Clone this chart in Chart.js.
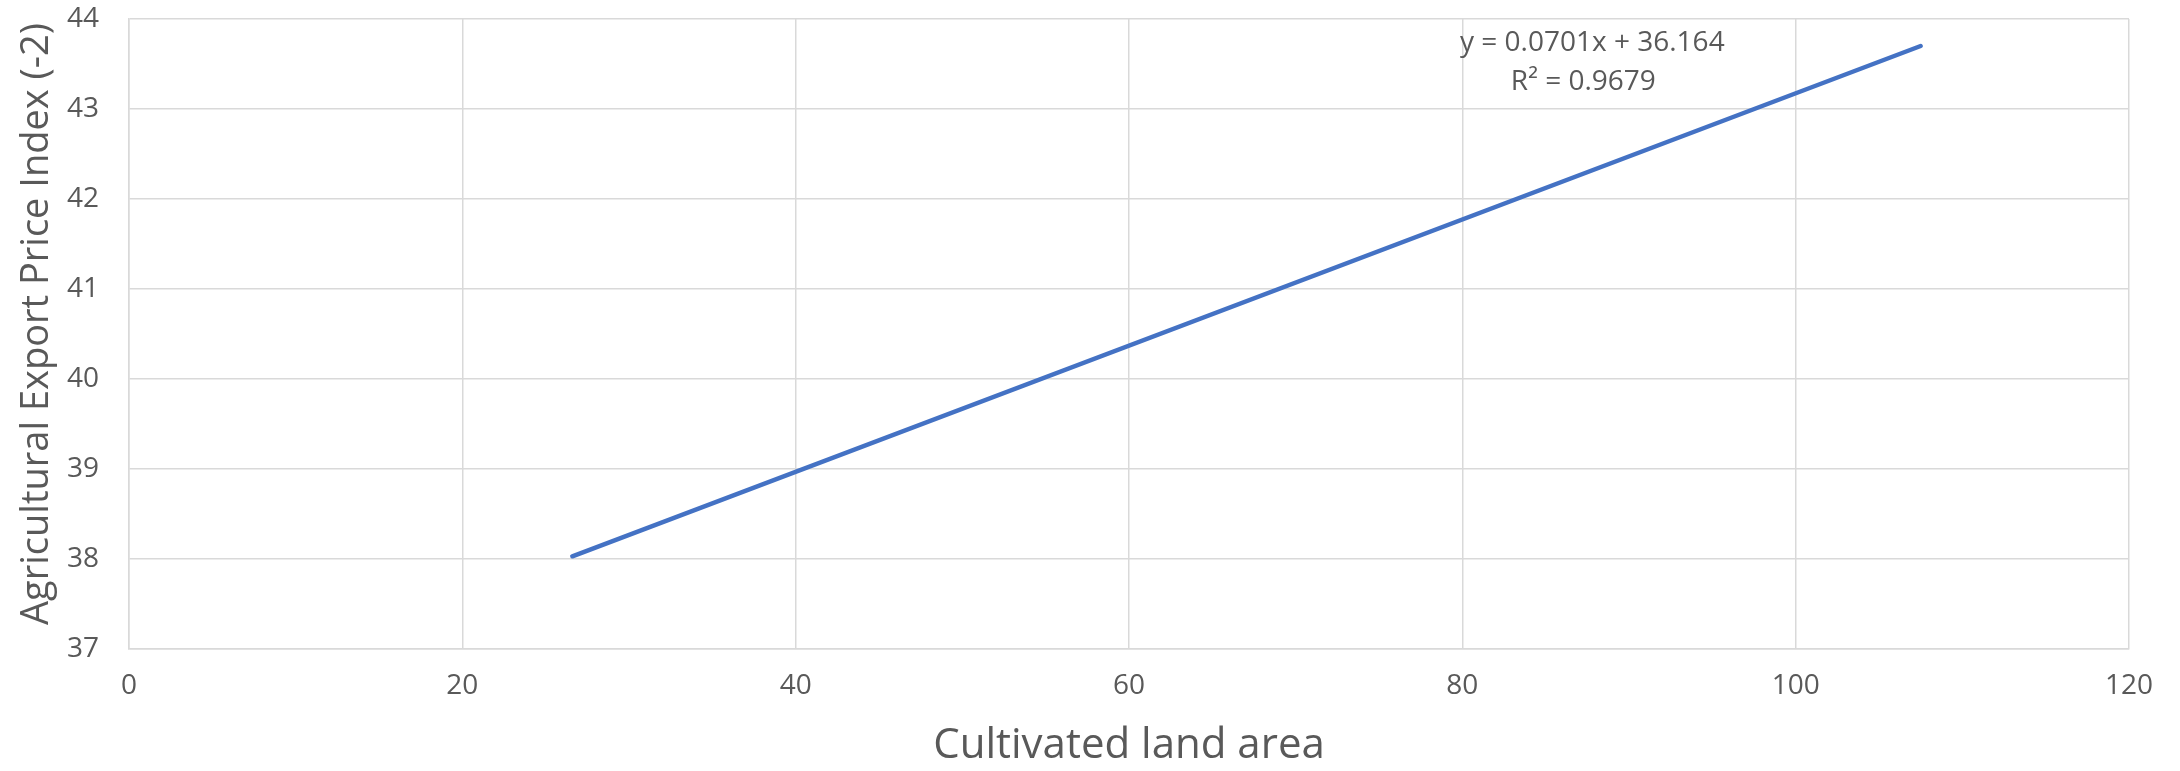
<!DOCTYPE html>
<html>
<head>
<meta charset="utf-8">
<script src="https://cdn.jsdelivr.net/npm/chart.js@4.4.1/dist/chart.umd.min.js"></script>
<style>
  html, body { margin: 0; padding: 0; background: #ffffff; }
  #wrap { width: 2180px; height: 771px; position: relative; }
</style>
</head>
<body>
<div id="wrap"><canvas id="chart" width="2180" height="771"></canvas></div>
<script>
// Linear trend of the export price index against cultivated land area
const trendX = [26.6, 107.5];
const trendY = [38.03, 43.70];
const equationLines = ['y = 0.0701x + 36.164', 'R\u00B2 = 0.9679'];
const xTitle = 'Cultivated land area';
const yTitle = 'Agricultural Export Price Index (-2)';

const FONT = "'Open Sans', 'Liberation Sans', sans-serif";
const TEXT = '#595959';
const GRID = '#d9d9d9';

const points = trendX.map((x, i) => ({ x: x, y: trendY[i] }));

// Writes the trendline equation and R² inside the plot area
const equationLabel = {
  id: 'equationLabel',
  afterDatasetsDraw(chart) {
    const { ctx, scales } = chart;
    const cx = scales.x.getPixelForValue(87.8);
    const cy = scales.y.getPixelForValue(43.73);
    ctx.save();
    ctx.fillStyle = TEXT;
    ctx.font = "28px " + FONT;
    ctx.textAlign = 'center';
    ctx.textBaseline = 'middle';
    ctx.fillText(equationLines[0], cx, cy);
    ctx.fillText(equationLines[1], cx - 9, cy + 39);
    ctx.restore();
  }
};

// Vertical axis title, drawn rotated left of the tick labels
const yAxisTitle = {
  id: 'yAxisTitle',
  afterDraw(chart) {
    const { ctx, chartArea } = chart;
    const cy = (chartArea.top + chartArea.bottom) / 2 - 10;
    ctx.save();
    ctx.translate(37, cy);
    ctx.rotate(-Math.PI / 2);
    ctx.fillStyle = TEXT;
    ctx.font = "38px " + FONT;
    ctx.textAlign = 'center';
    ctx.textBaseline = 'middle';
    ctx.fillText(yTitle, 0, 0);
    ctx.restore();
  }
};

new Chart(document.getElementById('chart'), {
  type: 'scatter',
  data: {
    datasets: [{
      data: points,
      showLine: true,
      borderColor: '#4472C4',
      borderWidth: 4.5,
      borderCapStyle: 'round',
      pointRadius: 0,
      pointHoverRadius: 0,
      fill: false
    }]
  },
  options: {
    responsive: false,
    animation: false,
    events: [],
    layout: { padding: { left: 0, top: 19, right: 51, bottom: 0 } },
    plugins: { legend: { display: false }, tooltip: { enabled: false } },
    scales: {
      x: {
        type: 'linear',
        min: 0, max: 120,
        afterFit(scale) { scale.height = 122; scale.paddingLeft = 0; scale.paddingRight = 0; },
        ticks: { stepSize: 20, color: TEXT, font: { family: FONT, size: 28 }, padding: 20, maxRotation: 0 },
        grid: { color: GRID, lineWidth: 1.5, drawTicks: false },
        border: { display: true, color: GRID, width: 1.5 },
        title: { display: true, text: xTitle, color: TEXT, font: { family: FONT, size: 42 }, padding: { top: 0, bottom: 0 } }
      },
      y: {
        type: 'linear',
        min: 37, max: 44,
        afterFit(scale) { scale.width = 129; scale.paddingTop = 0; scale.paddingBottom = 0; },
        ticks: { stepSize: 1, color: TEXT, font: { family: FONT, size: 28 }, padding: 30 },
        grid: { color: GRID, lineWidth: 1.5, drawTicks: false },
        border: { display: true, color: GRID, width: 1.5 },
        title: { display: false }
      }
    }
  },
  plugins: [equationLabel, yAxisTitle]
});
</script>
</body>
</html>
